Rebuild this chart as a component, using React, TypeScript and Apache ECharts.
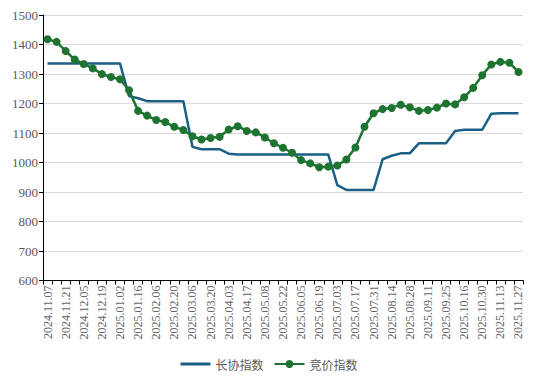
import React, { useEffect, useRef } from "react";
import * as echarts from "echarts";

const categories = [
  "2024.11.07", "2024.11.14", "2024.11.21", "2024.11.28", "2024.12.05", "2024.12.12",
  "2024.12.19", "2024.12.26", "2025.01.02", "2025.01.09", "2025.01.16", "2025.01.23",
  "2025.02.06", "2025.02.13", "2025.02.20", "2025.02.27", "2025.03.06", "2025.03.13",
  "2025.03.20", "2025.03.27", "2025.04.03", "2025.04.10", "2025.04.17", "2025.04.24",
  "2025.05.08", "2025.05.15", "2025.05.22", "2025.05.29", "2025.06.05", "2025.06.12",
  "2025.06.19", "2025.06.26", "2025.07.03", "2025.07.10", "2025.07.17", "2025.07.24",
  "2025.07.31", "2025.08.07", "2025.08.14", "2025.08.21", "2025.08.28", "2025.09.04",
  "2025.09.11", "2025.09.18", "2025.09.25", "2025.09.30", "2025.10.16", "2025.10.23",
  "2025.10.30", "2025.11.06", "2025.11.13", "2025.11.20", "2025.11.27",
];

const longTermIndex = [
  1336, 1336, 1336, 1336, 1336, 1336, 1336, 1336, 1336, 1225, 1218, 1208, 1208, 1208,
  1208, 1208, 1053, 1045, 1045, 1045, 1030, 1027, 1027, 1027, 1027, 1027, 1027, 1027,
  1027, 1027, 1027, 1027, 923, 907, 907, 907, 907, 1011, 1023, 1031, 1031, 1065, 1065,
  1065, 1065, 1107, 1111, 1111, 1111, 1165, 1167, 1167, 1167,
];

const auctionIndex = [
  1418, 1409, 1378, 1349, 1334, 1319, 1300, 1290, 1282, 1245, 1175, 1159, 1144, 1137,
  1121, 1110, 1089, 1078, 1083, 1087, 1112, 1123, 1107, 1102, 1085, 1065, 1050, 1033,
  1008, 997, 984, 986, 990, 1010, 1051, 1121, 1167, 1181, 1185, 1196, 1187, 1175, 1178,
  1186, 1200, 1197, 1221, 1253, 1296, 1332, 1341, 1338, 1307,
];

const seriesNames = ["长协指数", "竞价指数"];

const BLUE = "#1c5f84";
const GREEN = "#1d7330";
const SERIF = "Times New Roman";

export default function App() {
  const ref = useRef<HTMLDivElement>(null);
  useEffect(() => {
    if (!ref.current) return;
    const chart = echarts.init(ref.current, undefined, { renderer: "svg" });
    chart.setOption({
      animation: false,
      backgroundColor: "#ffffff",
      textStyle: { fontFamily: SERIF },
      grid: { left: 43, right: 15, top: 15, bottom: 106.5, containLabel: false },
      legend: {
        bottom: 12,
        left: "center",
        itemWidth: 30,
        itemHeight: 10,
        itemGap: 10,
        textStyle: {
          fontFamily: "Noto Sans CJK SC",
          fontSize: 12,
          color: "#595959",
        },
        data: [
          { name: seriesNames[0], icon: "path://M0,0 L30,0 L30,3 L0,3 Z" },
          { name: seriesNames[1] },
        ],
      },
      xAxis: {
        type: "category",
        data: categories,
        boundaryGap: true,
        axisLine: { lineStyle: { color: "#000000", width: 1 } },
        axisTick: { show: true, interval: 0, length: 4, lineStyle: { color: "#000000" } },
        axisLabel: {
          interval: 1,
          rotate: 90,
          fontFamily: SERIF,
          fontSize: 12,
          color: "#666666",
          margin: 5,
        },
        splitLine: { show: false },
      },
      yAxis: {
        type: "value",
        min: 600,
        max: 1500,
        interval: 100,
        axisLine: { show: true, lineStyle: { color: "#000000", width: 1 } },
        axisTick: { show: true, length: 4, lineStyle: { color: "#000000" } },
        axisLabel: {
          fontFamily: SERIF,
          fontSize: 13,
          color: "#595959",
          margin: 5,
          formatter: (v: number) => String(v),
        },
        splitLine: { show: true, lineStyle: { color: "#d9d9d9", width: 1 } },
      },
      series: [
        {
          name: seriesNames[0],
          type: "line",
          data: longTermIndex,
          symbol: "none",
          lineStyle: { color: BLUE, width: 2.5 },
          itemStyle: { color: BLUE },
        },
        {
          name: seriesNames[1],
          type: "line",
          data: auctionIndex,
          symbol: "circle",
          symbolSize: 8,
          showAllSymbol: true,
          lineStyle: { color: GREEN, width: 2.5 },
          itemStyle: { color: GREEN },
        },
      ],
    });
    return () => chart.dispose();
  }, []);
  return <div ref={ref} style={{ width: 538, height: 387, position: "absolute", left: 0, top: 0 }} />;
}
